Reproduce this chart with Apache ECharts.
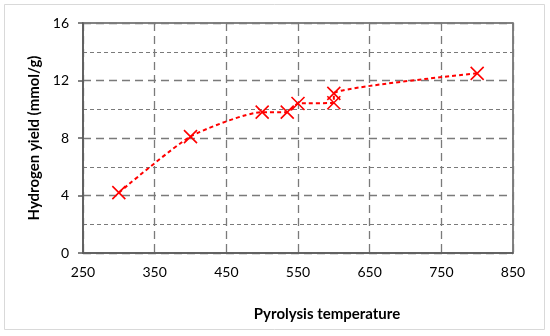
<!DOCTYPE html>
<html>
<head>
<meta charset="utf-8">
<script src="https://cdn.jsdelivr.net/npm/echarts@6/dist/echarts.min.js"></script>
<style>html,body{margin:0;padding:0;background:#fff}#c{width:550px;height:336px}</style>
</head>
<body>
<div id="c"></div>
<script>
const temperatures = [300, 400, 500, 535, 550, 600, 600, 800];
const hydrogenYield = [4.2, 8.1, 9.8, 9.8, 10.4, 10.45, 11.1, 12.5];
const xTickValues = [250, 350, 450, 550, 650, 750, 850];
const yTickValues = [0, 4, 8, 12, 16];
const xTitle = 'Pyrolysis temperature';
const yTitle = 'Hydrogen yield (mmol/g)';

const points = temperatures.map((t, i) => [t, hydrogenYield[i]]);
const chart = echarts.init(document.getElementById('c'), null, {renderer: 'canvas'});
const FONT = 'Lato';
chart.setOption({
  animation: false,
  backgroundColor: '#fff',
  graphic: [{
    type: 'rect', shape: {x: 4.5, y: 4.5, width: 540, height: 325},
    style: {fill: 'none', stroke: '#d9d9d9', lineWidth: 1}, z: -1
  }],
  grid: {left: 83, right: 37, top: 23, bottom: 83, show: true, borderColor: '#595959', borderWidth: 1.5, backgroundColor: 'transparent'},
  xAxis: {
    type: 'value', min: 250, max: 850,
    name: xTitle, nameLocation: 'middle', nameGap: 54,
    nameTextStyle: {fontFamily: FONT, fontWeight: 'bold', fontSize: 15, color: '#000', padding: [0, 0, 0, 58]},
    axisLine: {show: true, lineStyle: {color: '#595959', width: 1.5}},
    axisTick: {show: false, customValues: xTickValues},
    axisLabel: {customValues: xTickValues, margin: 12, fontFamily: FONT, fontSize: 14, color: '#000'},
    splitLine: {show: true, lineStyle: {color: '#7a7a7a', width: 1.3, type: [8, 5]}}
  },
  yAxis: {
    type: 'value', min: 0, max: 16, interval: 4,
    name: yTitle, nameLocation: 'middle', nameGap: 38, nameRotate: 90,
    nameTextStyle: {fontFamily: FONT, fontWeight: 'bold', fontSize: 15, color: '#000'},
    axisLine: {show: true, lineStyle: {color: '#595959', width: 1.5}},
    axisTick: {show: true, inside: false, length: 5, lineStyle: {color: '#595959', width: 1.5}},
    minorTick: {show: false, splitNumber: 2},
    minorSplitLine: {show: true, lineStyle: {color: '#7a7a7a', width: 1.2, type: [4, 3]}},
    axisLabel: {margin: 14, fontFamily: FONT, fontSize: 14, color: '#000'},
    splitLine: {show: true, lineStyle: {color: '#7a7a7a', width: 1.3, type: [8, 5]}}
  },
  series: [{
    type: 'line',
    data: points,
    smooth: 0.2,
    symbol: 'path://M0,0L10,10M10,0L0,10',
    symbolSize: 13,
    itemStyle: {color: '#ff0000', borderColor: '#ff0000', borderWidth: 1.6},
    lineStyle: {color: '#ff0000', width: 2, type: [4, 3]},
    z: 5
  }]
});
</script>
</body>
</html>
